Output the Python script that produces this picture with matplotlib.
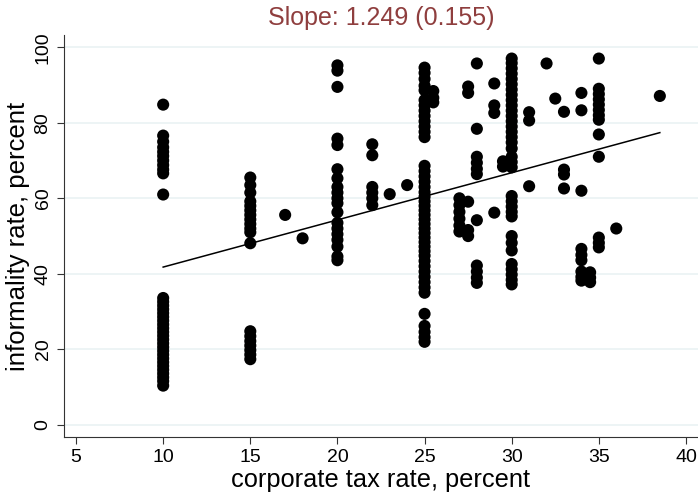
import numpy as np
import matplotlib.pyplot as plt

# corporate tax rate (x) and informality rate (y), grouped by tax-rate column
tax_10 = [84.8, 76.6, 75.0, 73.5, 72.3, 71.2, 70.0, 68.8, 67.6, 66.6, 61.0,
          33.6, 32.6, 31.6, 30.6, 29.6, 28.6, 27.6, 26.6, 25.6, 24.6, 23.6,
          22.6, 21.6, 20.6, 19.6, 18.6, 17.6, 16.6, 15.6, 14.6, 13.6, 12.6,
          11.6, 10.4]
tax_15 = [65.5, 63.5, 61.5, 59.2, 58.0, 56.8, 55.6, 54.4, 53.2, 52.0, 51.0,
          48.1, 24.8, 23.5, 22.2, 21.0, 19.8, 18.6, 17.4]
tax_20 = [95.2, 93.8, 89.5, 75.8, 74.1, 67.7, 65.3, 63.0, 61.5, 60.0, 58.7,
          56.3, 53.5, 52.0, 50.5, 49.0, 47.2, 44.6, 43.6]
tax_22 = [74.3, 71.4, 63.0, 61.5, 60.0, 58.2]
tax_25 = [94.6, 93.2, 91.6, 89.8, 88.6, 86.0, 84.6, 83.2, 81.8, 80.4, 79.0,
          77.6, 76.2, 68.6, 67.2, 65.8, 64.4, 63.0, 61.6, 60.4, 59.2, 58.0,
          56.8, 55.6, 54.4, 53.2, 52.0, 50.8, 49.6, 48.4, 47.2, 46.0, 44.8,
          43.4, 42.0, 40.6, 39.2, 37.8, 36.4, 35.0, 29.4, 26.2, 24.6, 23.2,
          22.0]
tax_27 = [60.0, 58.2, 56.4, 54.6, 52.8, 51.2]
tax_27_5 = [89.6, 87.9, 59.1, 51.6, 50.0]
tax_28 = [95.7, 78.4, 71.0, 69.4, 67.8, 66.4, 54.2, 42.2, 40.6, 39.0, 37.6]
tax_29 = [90.4, 84.6, 82.6, 56.2]
tax_29_5 = [69.8, 68.4]
tax_30 = [97.0, 95.8, 94.4, 93.0, 91.6, 90.2, 88.8, 87.4, 86.0, 84.6, 83.2,
          81.8, 80.4, 79.0, 77.6, 76.2, 74.8, 73.2, 71.0, 69.6, 68.2, 60.6,
          59.2, 57.8, 56.4, 55.2, 50.0, 48.2, 46.2, 42.6, 41.2, 39.8, 38.4,
          37.2]
tax_31 = [82.8, 80.6, 63.2]
tax_33 = [82.9, 67.6, 66.3, 62.6]
tax_34 = [87.9, 83.3, 62.0, 46.6, 45.0, 43.6, 40.6, 39.2, 38.2]
tax_34_5 = [40.4, 39.0, 37.8]
tax_35 = [97.0, 89.0, 87.6, 86.2, 84.8, 83.4, 82.0, 80.8, 76.9, 71.0, 49.6,
          48.2, 47.0]
singles_x = [17, 18, 23, 24, 25.5, 25.5, 25.5, 32, 32.5, 36, 38.5]
singles_y = [55.6, 49.4, 61.1, 63.5, 88.4, 86.6, 85.4, 95.7, 86.4, 52.0, 87.1]

columns = [(10, tax_10), (15, tax_15), (20, tax_20), (22, tax_22),
           (25, tax_25), (27, tax_27), (27.5, tax_27_5), (28, tax_28),
           (29, tax_29), (29.5, tax_29_5), (30, tax_30), (31, tax_31),
           (33, tax_33), (34, tax_34), (34.5, tax_34_5), (35, tax_35)]

x = np.concatenate([[rate] * len(vals) for rate, vals in columns] + [singles_x])
y = np.concatenate([vals for rate, vals in columns] + [singles_y])

# fitted line reported in the title
slope = 1.249
se = 0.155
intercept = 29.3

plt.rcParams['font.family'] = ['Liberation Sans', 'DejaVu Sans']

fig = plt.figure(figsize=(6.98, 4.95), dpi=100)
ax = fig.add_axes([0.0917, 0.1172, 0.9083, 0.8118])

for g in range(0, 101, 20):
    ax.axhline(g, color='#eaf2f3', lw=1.2, zorder=0)

ax.scatter(x, y, s=76, color='black', edgecolors='none', zorder=2)

xf = np.array([x.min(), x.max()])
ax.plot(xf, intercept + slope * xf, color='black', lw=1.1, zorder=3)

ax.set_xlim(4.31, 40.69)
ax.set_ylim(-3.2, 103.2)
ax.set_xticks(range(5, 41, 5))
ax.set_yticks(range(0, 101, 20))
ax.set_yticklabels([str(v) for v in range(0, 101, 20)], rotation=90, va='center')
ax.tick_params(axis='both', labelsize=14, length=5, width=0.8, color='#333333', pad=4)

for side in ['top', 'right']:
    ax.spines[side].set_visible(False)
for side in ['left', 'bottom']:
    ax.spines[side].set_color('#333333')
    ax.spines[side].set_linewidth(0.8)

ax.set_xlabel('corporate tax rate, percent', fontsize=18.3, labelpad=1)
ax.set_ylabel('informality rate, percent', fontsize=18.5, labelpad=3)
ax.set_title(f'Slope: {slope:.3f} ({se:.3f})', fontsize=18, color='#8f3e3e', pad=7)

fig.savefig('out.png', dpi=100)
